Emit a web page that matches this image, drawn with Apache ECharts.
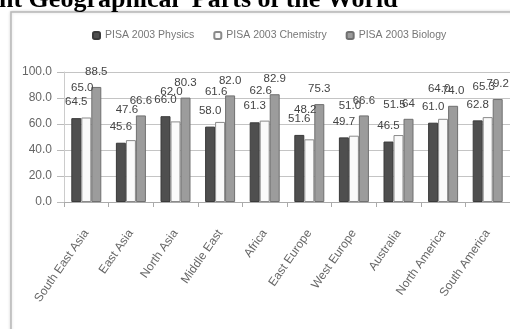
<!DOCTYPE html>
<html>
<head>
<meta charset="utf-8">
<script src="https://cdn.jsdelivr.net/npm/echarts@6/dist/echarts.min.js"></script>
<style>
  html, body { margin: 0; padding: 0; background: #fff; }
  #chart { width: 510px; height: 329px; }
</style>
</head>
<body>
<div id="chart"></div>
<script>
// PISA 2003 scores by region
const regions = ['South East Asia', 'East Asia', 'North Asia', 'Middle East', 'Africa',
                 'East Europe', 'West Europe', 'Australia', 'North America', 'South America'];
const physics   = ['64.5', '45.6', '66.0', '58.0', '61.3', '51.6', '49.7', '46.5', '61.0', '62.8'];
const chemistry = ['65.0', '47.6', '62.0', '61.6', '62.6', '48.2', '51.0', '51.5', '64.0', '65.3'];
const biology   = ['88.5', '66.6', '80.3', '82.0', '82.9', '75.3', '66.6', '64',   '74.0', '79.2'];
const yTicks = [0, 20, 40, 60, 80, 100];

const sansFont = "'Liberation Sans', Arial, sans-serif";

function barSeries(name, values, color, border, labelDist, labelOffset) {
  return {
    name: name,
    type: 'bar',
    barWidth: 10,
    barGap: '0%',
    data: values.map(Number),
    itemStyle: { color: color, borderColor: border, borderWidth: 1 },
    label: {
      show: true,
      position: 'top',
      distance: labelDist,
      offset: labelOffset,
      fontFamily: sansFont,
      fontSize: 11.5,
      color: '#444',
      formatter: p => values[p.dataIndex]
    }
  };
}

const chart = echarts.init(document.getElementById('chart'), null, { renderer: 'canvas' });
chart.setOption({
  animation: false,
  backgroundColor: '#fff',
  graphic: [
    {
      type: 'rect',
      shape: { x: 11, y: 12, width: 520, height: 340 },
      style: { fill: '#fff', stroke: '#b8b8b8', lineWidth: 1.5,
               shadowColor: 'rgba(0,0,0,0.15)', shadowBlur: 3 },
      z: -10
    },
    {
      type: 'text',
      left: -1, top: -13,
      style: {
        text: 'nt Geographical  Parts of the World',
        font: "bold 26px 'Liberation Serif', 'Times New Roman', serif",
        fill: '#000'
      }
    }
  ],
  legend: {
    top: 25,
    left: 87,
    itemWidth: 7,
    itemHeight: 7,
    itemGap: 19,
    textStyle: { fontSize: 10.5, color: '#777', fontFamily: sansFont },
    data: ['PISA 2003 Physics', 'PISA 2003 Chemistry', 'PISA 2003 Biology']
  },
  grid: { left: 64, right: 0, top: 72, bottom: 127, containLabel: false },
  xAxis: {
    type: 'category',
    data: regions,
    axisLine: { lineStyle: { color: '#aaa' } },
    axisTick: { show: true, length: 5, lineStyle: { color: '#aaa' } },
    axisLabel: {
      rotate: 55,
      margin: 29,
      interval: 0,
      fontSize: 12,
      color: '#666',
      fontFamily: sansFont
    }
  },
  yAxis: {
    type: 'value',
    min: yTicks[0],
    max: yTicks[yTicks.length - 1],
    interval: 20,
    axisLine: { show: true, lineStyle: { color: '#ccc' } },
    axisTick: { show: true, length: 7, lineStyle: { color: '#bbb' } },
    splitLine: { lineStyle: { color: '#c4c4c4' } },
    axisLabel: {
      margin: 12,
      fontSize: 12,
      color: '#666',
      fontFamily: sansFont,
      formatter: v => v.toFixed(1)
    }
  },
  series: [
    barSeries('PISA 2003 Physics', physics, '#4f4f4f', '#3a3a3a', 10, [0, 0]),
    barSeries('PISA 2003 Chemistry', chemistry, '#fafafa', '#8a8a8a', 24, [-4, 0]),
    barSeries('PISA 2003 Biology', biology, '#9c9c9c', '#707070', 9, [0, 0])
  ]
});
</script>
</body>
</html>
